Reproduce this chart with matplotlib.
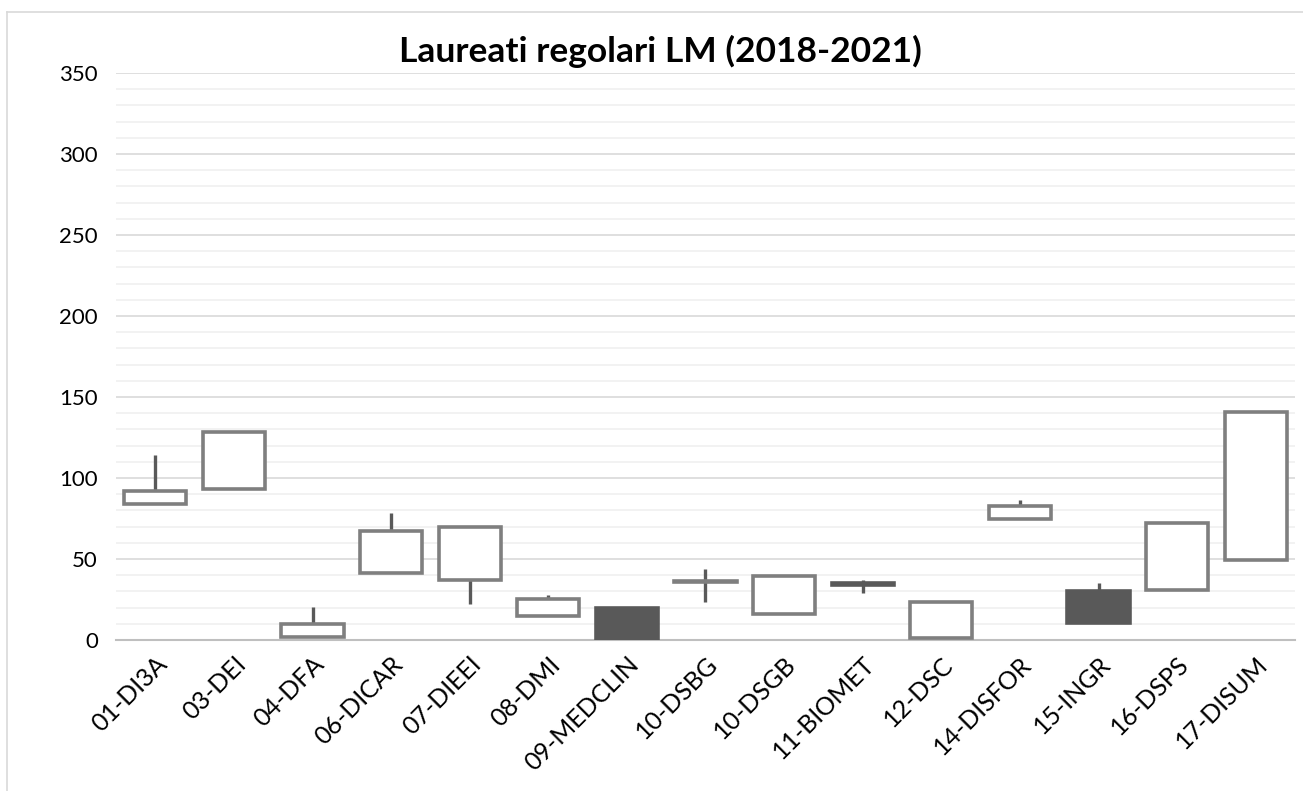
import matplotlib.pyplot as plt
from matplotlib.patches import Rectangle
from matplotlib.lines import Line2D
from matplotlib.ticker import MultipleLocator

plt.rcParams['font.family'] = ['Lato', 'DejaVu Sans']

# Dati: apertura, massimo, minimo, chiusura per dipartimento
dipartimenti = ['01-DI3A', '03-DEI', '04-DFA', '06-DICAR', '07-DIEEI', '08-DMI',
                '09-MEDCLIN', '10-DSBG', '10-DSGB', '11-BIOMET', '12-DSC',
                '14-DISFOR', '15-INGR', '16-DSPS', '17-DISUM']
apertura = [84, 93, 2, 41.5, 37, 15, 20, 35.5, 16, 35, 1.5, 75, 30, 31, 49.5]
massimo = [114, 128.5, 20.5, 78.5, 70, 28, 20, 44, 39.5, 37, 23.5, 86.5, 35, 72, 141]
minimo = [84, 93, 2, 41.5, 22, 15, 0, 23.5, 16, 29, 1.5, 75, 10.5, 31, 49.5]
chiusura = [92, 128.5, 10, 67, 70, 25.5, 0, 36.5, 39.5, 34, 23.5, 83, 10.5, 72, 141]

fig = plt.figure(figsize=(13.03, 7.91), dpi=100)
ax = fig.add_axes([116 / 1303, 1 - 640 / 791, 1179 / 1303, 567 / 791])

larghezza = 0.79
for i in range(len(dipartimenti)):
    o, h, l, c = apertura[i], massimo[i], minimo[i], chiusura[i]
    ax.vlines(i, l, h, color='#595959', lw=2.4, zorder=2)
    if c >= o:
        box = Rectangle((i - larghezza / 2, o), larghezza, c - o,
                        facecolor='white', edgecolor='#7f7f7f', lw=2.6, zorder=3)
    else:
        box = Rectangle((i - larghezza / 2, c), larghezza, o - c,
                        facecolor='#595959', edgecolor='#595959', lw=2.6, zorder=3)
    ax.add_patch(box)

ax.set_xlim(-0.5, len(dipartimenti) - 0.5)
ax.set_ylim(0, 350)
ax.yaxis.set_major_locator(MultipleLocator(50))
ax.yaxis.set_minor_locator(MultipleLocator(10))
ax.grid(axis='y', which='major', color='#d9d9d9', lw=1.2, zorder=0)
ax.grid(axis='y', which='minor', color='#f0f0f0', lw=1.2, zorder=0)
ax.set_axisbelow(True)

for s in ['top', 'right', 'left']:
    ax.spines[s].set_visible(False)
ax.spines['bottom'].set_color('#bfbfbf')
ax.spines['bottom'].set_linewidth(1.5)
ax.spines['bottom'].set_zorder(1)

ax.set_xticks(range(len(dipartimenti)))
ax.set_xticklabels(dipartimenti, rotation=45, ha='right', rotation_mode='anchor',
                   fontsize=18, color='#000000')
ax.tick_params(axis='both', which='both', length=0)
ax.tick_params(axis='x', pad=9)
ax.tick_params(axis='y', pad=13, labelsize=16)

fig.text(0.507, 0.935, 'Laureati regolari LM (2018-2021)', ha='center', va='center',
         fontsize=25.5, fontweight='bold')

# bordo dell'area del grafico
bx, by = 7 / 1303, 1 - 12 / 791
fig.add_artist(Line2D([bx, 1], [by, by], color='#d9d9d9', lw=1.2))
fig.add_artist(Line2D([bx, bx], [0, by], color='#d9d9d9', lw=1.2))

fig.savefig('out.png', dpi=100)
